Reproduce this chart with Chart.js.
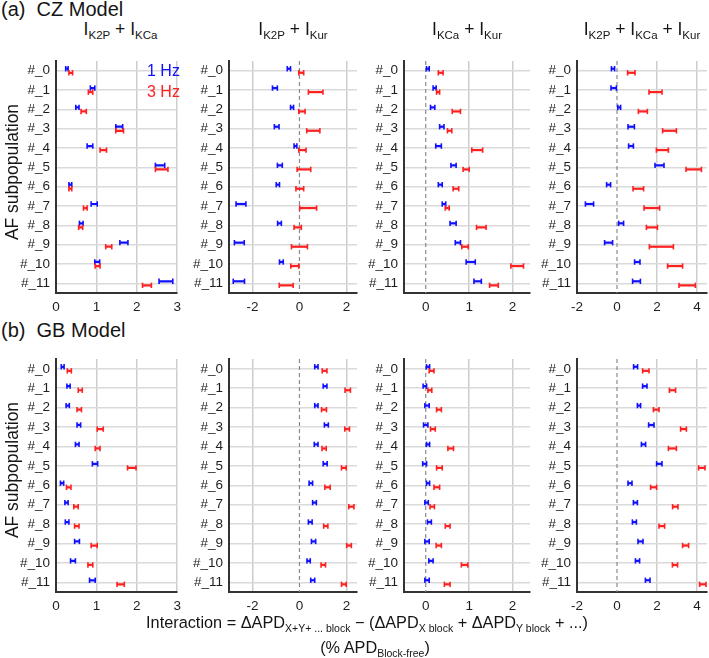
<!DOCTYPE html>
<html>
<head>
<meta charset="utf-8">
<script src="https://cdn.jsdelivr.net/npm/chart.js@4.4.1/dist/chart.umd.min.js"></script>
<style>
    html, body { margin: 0; padding: 0; background: #fff; }
    body {
        width: 709px; height: 658px; position: relative; overflow: hidden;
        font-family: "Liberation Sans", Arial, Helvetica, sans-serif; color: #151515;
    }
    .panel { position: absolute; }
    .txt { position: absolute; white-space: nowrap; line-height: 1; }
    .row-title { font-size: 20px; }
    .col-title { font-size: 17.5px; transform: translateX(-50%); }
    .col-title sub { font-size: 11.5px; vertical-align: -4px; line-height: 0; }
    .x-title { font-size: 16.3px; transform: translateX(-50%); }
    .x-title sub { font-size: 10.5px; vertical-align: -4px; line-height: 0; }
    .y-title { font-size: 17.5px; transform: translate(-50%, -50%) rotate(-90deg); }
    .legend { font-size: 16px; }
</style>
</head>
<body>
<script>
/* 交互作用 CZ / GB 模型：各 AF 亞群的區間（1 Hz 藍、3 Hz 紅） */
const categories = ['#_0', '#_1', '#_2', '#_3', '#_4', '#_5', '#_6', '#_7', '#_8', '#_9', '#_10', '#_11'];

// (a) CZ model  [low, high]
const czK2pKca1Hz = [[0.24, 0.30], [0.85, 0.96], [0.49, 0.57], [1.48, 1.65], [0.77, 0.91], [2.46, 2.69], [0.32, 0.39], [0.87, 1.02], [0.58, 0.67], [1.58, 1.78], [0.96, 1.08], [2.55, 2.89]];
const czK2pKca3Hz = [[0.32, 0.41], [0.80, 0.91], [0.62, 0.75], [1.48, 1.67], [1.09, 1.25], [2.46, 2.77], [0.32, 0.39], [0.68, 0.77], [0.56, 0.66], [1.23, 1.38], [0.97, 1.09], [2.14, 2.36]];
const czK2pKur1Hz = [[-0.52, -0.38], [-1.15, -0.94], [-0.38, -0.25], [-1.07, -0.87], [-0.23, -0.11], [-0.94, -0.73], [-0.99, -0.85], [-2.70, -2.28], [-0.93, -0.77], [-2.77, -2.35], [-0.85, -0.69], [-2.82, -2.34]];
const czK2pKur3Hz = [[-0.03, 0.18], [0.38, 1.00], [-0.03, 0.24], [0.31, 0.87], [-0.03, 0.28], [-0.10, 0.48], [-0.15, 0.18], [0.01, 0.73], [-0.23, 0.08], [-0.34, 0.34], [-0.37, -0.03], [-0.86, -0.27]];
const czKcaKur1Hz = [[0.00, 0.08], [0.17, 0.24], [0.11, 0.21], [0.32, 0.42], [0.23, 0.36], [0.58, 0.70], [0.29, 0.38], [0.38, 0.46], [0.56, 0.70], [0.68, 0.80], [0.93, 1.14], [1.11, 1.28]];
const czKcaKur3Hz = [[0.29, 0.40], [0.25, 0.32], [0.61, 0.80], [0.50, 0.60], [1.06, 1.31], [0.86, 1.00], [0.63, 0.76], [0.45, 0.54], [1.17, 1.39], [0.83, 0.98], [1.96, 2.25], [1.47, 1.67]];
const czAll1Hz = [[-0.28, -0.12], [-0.30, -0.03], [0.00, 0.18], [0.55, 0.87], [0.58, 0.82], [1.90, 2.35], [-0.52, -0.32], [-1.58, -1.17], [0.08, 0.33], [-0.62, -0.22], [0.88, 1.15], [0.78, 1.17]];
const czAll3Hz = [[0.53, 0.90], [1.60, 2.25], [1.07, 1.52], [2.28, 2.97], [1.97, 2.57], [3.45, 4.22], [0.80, 1.33], [1.35, 2.13], [1.47, 2.02], [1.62, 2.82], [2.53, 3.28], [3.10, 3.92]];

// (b) GB model
const gbK2pKca1Hz = [[0.13, 0.20], [0.27, 0.35], [0.25, 0.33], [0.52, 0.61], [0.48, 0.57], [0.90, 1.03], [0.11, 0.19], [0.22, 0.30], [0.23, 0.32], [0.46, 0.58], [0.36, 0.48], [0.83, 0.97]];
const gbK2pKca3Hz = [[0.28, 0.38], [0.55, 0.65], [0.52, 0.63], [1.02, 1.17], [0.97, 1.09], [1.77, 1.98], [0.26, 0.37], [0.44, 0.55], [0.46, 0.57], [0.87, 1.02], [0.79, 0.91], [1.51, 1.69]];
const gbK2pKur1Hz = [[0.65, 0.79], [1.01, 1.17], [0.65, 0.79], [1.06, 1.23], [0.63, 0.79], [1.01, 1.18], [0.41, 0.56], [0.56, 0.72], [0.38, 0.54], [0.51, 0.69], [0.32, 0.46], [0.48, 0.65]];
const gbK2pKur3Hz = [[0.97, 1.17], [1.94, 2.17], [0.94, 1.15], [1.93, 2.13], [0.96, 1.14], [1.79, 1.99], [1.08, 1.31], [2.10, 2.32], [1.03, 1.21], [2.01, 2.21], [0.92, 1.11], [1.79, 1.99]];
const gbKcaKur1Hz = [[0.00, 0.09], [-0.06, 0.02], [-0.02, 0.08], [-0.05, 0.05], [0.00, 0.09], [-0.07, 0.02], [0.00, 0.09], [-0.02, 0.06], [0.04, 0.13], [-0.02, 0.08], [0.07, 0.17], [-0.02, 0.08]];
const gbKcaKur3Hz = [[0.08, 0.19], [0.05, 0.14], [0.25, 0.36], [0.11, 0.22], [0.51, 0.64], [0.25, 0.38], [0.19, 0.32], [0.10, 0.20], [0.45, 0.56], [0.24, 0.36], [0.82, 0.97], [0.43, 0.56]];
const gbAll1Hz = [[0.83, 1.03], [1.28, 1.50], [1.02, 1.18], [1.58, 1.85], [1.22, 1.43], [1.98, 2.25], [0.55, 0.75], [0.82, 1.02], [0.77, 0.97], [1.05, 1.30], [0.92, 1.13], [1.42, 1.65]];
const gbAll3Hz = [[1.28, 1.60], [2.62, 2.93], [1.82, 2.10], [3.18, 3.47], [2.57, 2.97], [4.08, 4.40], [1.68, 1.98], [2.78, 3.05], [2.10, 2.38], [3.28, 3.58], [2.77, 3.03], [4.13, 4.45]];

// x 軸刻度與範圍（每欄共用）
const k2pKcaTicks = [0, 1, 2, 3];
const k2pKurTicks = [-2, 0, 2];
const kcaKurTicks = [0, 1, 2];
const allTicks = [-2, 0, 2, 4];
const colRanges = [[0, 3], [-3, 2.45], [-0.5, 2.4], [-2, 4.5]];

const BLUE = '#1010ff';
const RED = '#ff2020';
const INK = '#1e1e1e';
const Y_AXIS_W = 50;
const X_AXIS_H = 22;
const PAD_TOP = 3;
const PAD_RIGHT = 2;

// plot area pixel boxes
const colPlotX = [[56, 185], [229, 357], [404, 530], [577, 707]];
const rowPlotY = [[50, 293], [348, 592]];

const errorCaps = {
    id: 'errorCaps',
    afterDatasetsDraw(chart) {
        const ctx = chart.ctx;
        chart.data.datasets.forEach((ds, i) => {
            const meta = chart.getDatasetMeta(i);
            ctx.save();
            ctx.strokeStyle = ds.backgroundColor;
            ctx.lineWidth = 1.6;
            meta.data.forEach((bar) => {
                const { x, y, base } = bar.getProps(['x', 'y', 'base'], true);
                [x, base].forEach((px) => {
                    ctx.beginPath();
                    ctx.moveTo(px, y - 2.7);
                    ctx.lineTo(px, y + 2.7);
                    ctx.stroke();
                });
            });
            ctx.restore();
        });
    },
};

const zeroLine = {
    id: 'zeroLine',
    beforeDatasetsDraw(chart) {
        const sx = chart.scales.x;
        if (sx.min >= 0 || sx.max <= 0) return;
        const x = sx.getPixelForValue(0);
        const { top, bottom } = chart.chartArea;
        const ctx = chart.ctx;
        ctx.save();
        ctx.strokeStyle = '#8a8a8a';
        ctx.lineWidth = 1.2;
        ctx.setLineDash([4, 3]);
        ctx.beginPath();
        ctx.moveTo(x, top);
        ctx.lineTo(x, bottom);
        ctx.stroke();
        ctx.restore();
    },
};

function makePanel(row, col, blue, red, ticks) {
    const [x0, x1] = colPlotX[col];
    const [y0, y1] = rowPlotY[row];
    const [min, max] = colRanges[col];
    const w = (x1 - x0) + Y_AXIS_W + PAD_RIGHT;
    const h = (y1 - y0) + PAD_TOP + X_AXIS_H;

    const box = document.createElement('div');
    box.className = 'panel';
    box.style.left = (x0 - Y_AXIS_W) + 'px';
    box.style.top = (y0 - PAD_TOP) + 'px';
    const canvas = document.createElement('canvas');
    canvas.width = w;
    canvas.height = h;
    box.appendChild(canvas);
    document.body.appendChild(box);

    return new Chart(canvas, {
        type: 'bar',
        data: {
            labels: categories,
            datasets: [
                { label: '1 Hz', data: blue, backgroundColor: BLUE, borderWidth: 0 },
                { label: '3 Hz', data: red, backgroundColor: RED, borderWidth: 0 },
            ],
        },
        options: {
            responsive: false,
            animation: false,
            indexAxis: 'y',
            layout: { padding: { top: PAD_TOP, right: PAD_RIGHT, left: 0, bottom: 0 } },
            datasets: { bar: { categoryPercentage: 0.42, barPercentage: 0.55, borderSkipped: false, borderRadius: 0 } },
            plugins: { legend: { display: false }, tooltip: { enabled: false } },
            scales: {
                x: {
                    type: 'linear',
                    min, max,
                    afterBuildTicks: (s) => { s.ticks = ticks.map((v) => ({ value: v })); },
                    afterFit: (s) => { s.height = X_AXIS_H; },
                    grid: {
                        drawTicks: false,
                        lineWidth: 1.5,
                        color: (c) => (c.tick && c.tick.value === 0 && min < 0 ? 'rgba(0,0,0,0)' : '#cdcdcd'),
                    },
                    border: { color: '#333', width: 2 },
                    ticks: { padding: 6, color: INK, font: { size: 13.5, family: '"Liberation Sans", Arial, sans-serif' } },
                },
                y: {
                    type: 'category',
                    offset: true,
                    afterFit: (s) => { s.width = Y_AXIS_W; },
                    grid: { offset: false, drawTicks: false, lineWidth: 1.5, color: '#dadada' },
                    border: { color: '#333', width: 2 },
                    ticks: { padding: 6, color: INK, font: { size: 13.5, family: '"Liberation Sans", Arial, sans-serif' } },
                },
            },
        },
        plugins: [zeroLine, errorCaps],
    });
}

function addText(cls, html, left, top) {
    const el = document.createElement('div');
    el.className = 'txt ' + cls;
    el.innerHTML = html;
    el.style.left = left + 'px';
    el.style.top = top + 'px';
    document.body.appendChild(el);
    return el;
}

makePanel(0, 0, czK2pKca1Hz, czK2pKca3Hz, k2pKcaTicks);
makePanel(0, 1, czK2pKur1Hz, czK2pKur3Hz, k2pKurTicks);
makePanel(0, 2, czKcaKur1Hz, czKcaKur3Hz, kcaKurTicks);
makePanel(0, 3, czAll1Hz, czAll3Hz, allTicks);
makePanel(1, 0, gbK2pKca1Hz, gbK2pKca3Hz, k2pKcaTicks);
makePanel(1, 1, gbK2pKur1Hz, gbK2pKur3Hz, k2pKurTicks);
makePanel(1, 2, gbKcaKur1Hz, gbKcaKur3Hz, kcaKurTicks);
makePanel(1, 3, gbAll1Hz, gbAll3Hz, allTicks);

const colTitles = [
    'I<sub>K2P</sub> + I<sub>KCa</sub>',
    'I<sub>K2P</sub> + I<sub>Kur</sub>',
    'I<sub>KCa</sub> + I<sub>Kur</sub>',
    'I<sub>K2P</sub> + I<sub>KCa</sub> + I<sub>Kur</sub>',
];
colTitles.forEach((t, i) => addText('col-title', t, (colPlotX[i][0] + colPlotX[i][1]) / 2, 21));

addText('row-title', '(a)&nbsp; CZ Model', 1, -1);
addText('row-title', '(b)&nbsp; GB Model', 1, 320);
rowPlotY.forEach(([a, b]) => addText('y-title', 'AF subpopulation', 13, (a + b) / 2));

addText('legend', '<span style="color:' + BLUE + '">1 Hz</span>', 147, 63);
addText('legend', '<span style="color:' + RED + '">3 Hz</span>', 147, 84);

addText('x-title', 'Interaction = ΔAPD<sub>X+Y+ ... block</sub> − (ΔAPD<sub>X block</sub> + ΔAPD<sub>Y block</sub> + ...)', 367, 614);
addText('x-title', '(% APD<sub>Block-free</sub>)', 375, 639);
</script>
</body>
</html>
